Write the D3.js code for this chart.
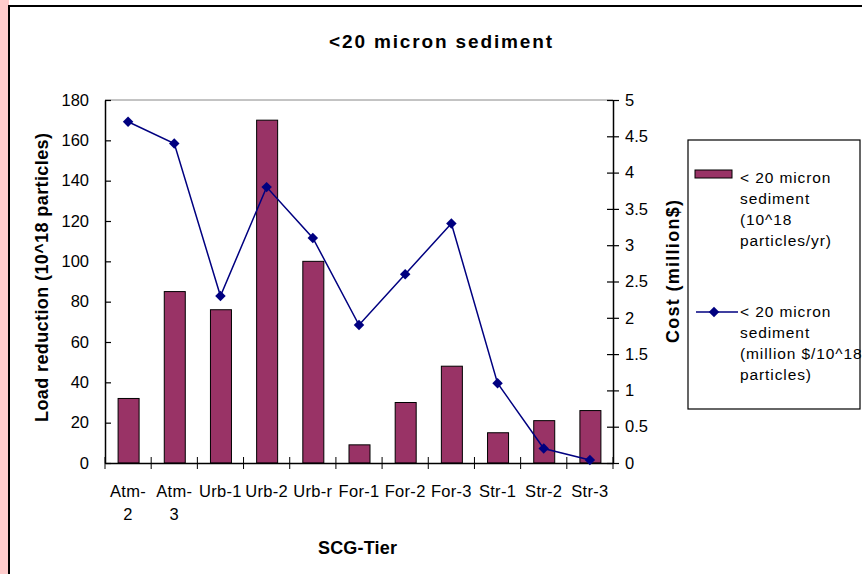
<!DOCTYPE html>
<html>
<head>
<meta charset="utf-8">
<script src="https://cdn.jsdelivr.net/npm/d3@7"></script>
<style>
	body { margin: 0; background: #fff; }
	svg text { font-family: "Liberation Sans", Arial, sans-serif; fill: #000; }
</style>
</head>
<body>
<div id="chart"></div>
<script>
//////////////////////////////// Data ////////////////////////////////
var categories = ["Atm-2", "Atm-3", "Urb-1", "Urb-2", "Urb-r", "For-1", "For-2", "For-3", "Str-1", "Str-2", "Str-3"];
var loadValues = [32, 85, 76, 170, 100, 9, 30, 48, 15, 21, 26];
var costValues = [4.7, 4.4, 2.3, 3.8, 3.1, 1.9, 2.6, 3.3, 1.1, 0.2, 0.04];
var leftTicks = [0, 20, 40, 60, 80, 100, 120, 140, 160, 180];
var rightTicks = [0, 0.5, 1, 1.5, 2, 2.5, 3, 3.5, 4, 4.5, 5];
var barLegend = ["< 20 micron", "sediment", "(10^18", "particles/yr)"];
var lineLegend = ["< 20 micron", "sediment", "(million $/10^18", "particles)"];

var width = 862, height = 574;
var plot = {left: 105, right: 613, top: 100, bottom: 463};
var barColor = "#993366", lineColor = "#000080";
var tickFont = "16.5px";

var svg = d3.select("#chart").append("svg")
	.attr("width", width)
	.attr("height", height);

//Pink strip on the left and the chart frame
svg.append("rect").attr("x", 0).attr("y", 0).attr("width", 9).attr("height", height).style("fill", "#ffcccc");
svg.append("rect")
	.attr("x", 9).attr("y", 6).attr("width", width + 10).attr("height", height + 10)
	.style("fill", "#fff").style("stroke", "#000").style("stroke-width", 2);

//////////////////////////////// Scales ////////////////////////////////
var x = d3.scaleBand().domain(categories).range([plot.left, plot.right]);
var yLeft = d3.scaleLinear().domain([0, 180]).range([plot.bottom, plot.top]);
var yRight = d3.scaleLinear().domain([0, 5]).range([plot.bottom, plot.top]);

//Top border of the plot area
svg.append("line")
	.attr("x1", plot.left).attr("x2", plot.right)
	.attr("y1", plot.top).attr("y2", plot.top)
	.style("stroke", "#888").style("stroke-width", 1);

//////////////////////////////// Bars ////////////////////////////////
var barW = 21;
svg.selectAll(".bar")
	.data(loadValues)
	.enter().append("rect")
	.attr("class", "bar")
	.attr("x", function(d, i) { return x(categories[i]) + x.bandwidth()/2 - barW/2 + 0.5; })
	.attr("y", function(d) { return yLeft(d); })
	.attr("width", barW)
	.attr("height", function(d) { return plot.bottom - yLeft(d); })
	.style("fill", barColor)
	.style("stroke", "#000")
	.style("stroke-width", 1);

//////////////////////////////// Axes ////////////////////////////////
var leftAxis = d3.axisLeft(yLeft).tickValues(leftTicks).tickSizeInner(6).tickSizeOuter(0).tickPadding(10);
var gl = svg.append("g").attr("transform", "translate(" + plot.left + ",0)").call(leftAxis);
gl.selectAll(".tick line").attr("x2", 6);

var rightAxis = d3.axisRight(yRight).tickValues(rightTicks).tickSizeInner(6).tickSizeOuter(0).tickPadding(6)
	.tickFormat(function(d) { return d; });
var gr = svg.append("g").attr("transform", "translate(" + plot.right + ",0)").call(rightAxis);
gr.selectAll(".tick line").attr("x1", -6);

var bottomAxis = d3.axisBottom(x).tickSize(0).tickFormat("");
var gb = svg.append("g").attr("transform", "translate(0," + plot.bottom + ")").call(bottomAxis);
//Ticks at the category boundaries
var boundaries = categories.map(function(c) { return x(c); }).concat([plot.right]);
gb.selectAll(".boundary")
	.data(boundaries)
	.enter().append("line")
	.attr("x1", function(d) { return d; }).attr("x2", function(d) { return d; })
	.attr("y1", -6).attr("y2", 6)
	.style("stroke", "#000");

[gl, gr, gb].forEach(function(g) {
	g.attr("font-size", null).attr("font-family", null);
	g.selectAll(".domain").style("stroke", "#000").style("stroke-width", 1.5);
	g.selectAll(".tick line").style("stroke", "#000").style("stroke-width", 1.2);
	g.selectAll("text").style("font-size", tickFont).style("fill", "#000");
});

//Category labels (the Atm ones wrap onto two lines)
svg.selectAll(".cat-label")
	.data(categories)
	.enter().append("text")
	.attr("class", "cat-label")
	.attr("text-anchor", "middle")
	.style("font-size", "16.5px")
	.style("letter-spacing", "0.3px")
	.each(function(d) {
		var cx = x(d) + x.bandwidth()/2;
		var parts = d.indexOf("Atm") === 0 ? [d.split("-")[0] + "-", d.split("-")[1]] : [d];
		var t = d3.select(this);
		parts.forEach(function(p, i) {
			t.append("tspan").attr("x", cx).attr("y", 497 + i*23).text(p);
		});
	});

//////////////////////////////// Line ////////////////////////////////
var line = d3.line()
	.x(function(d, i) { return x(categories[i]) + x.bandwidth()/2; })
	.y(function(d) { return yRight(d); });

svg.append("path")
	.datum(costValues)
	.attr("d", line)
	.style("fill", "none")
	.style("stroke", lineColor)
	.style("stroke-width", 1.5);

var diamond = d3.symbol().type(d3.symbolDiamond2).size(70);
svg.selectAll(".marker")
	.data(costValues)
	.enter().append("path")
	.attr("class", "marker")
	.attr("d", diamond)
	.attr("transform", function(d, i) {
		return "translate(" + (x(categories[i]) + x.bandwidth()/2) + "," + yRight(d) + ")";
	})
	.style("fill", lineColor);

//////////////////////////////// Titles ////////////////////////////////
svg.append("text")
	.attr("x", 329).attr("y", 48)
	.attr("textLength", 223).attr("lengthAdjust", "spacing")
	.style("font-size", "19px").style("font-weight", "bold")
	.text("<20 micron sediment");

svg.append("text")
	.attr("transform", "translate(48,422) rotate(-90)")
	.attr("textLength", 289).attr("lengthAdjust", "spacing")
	.style("font-size", "18px").style("font-weight", "bold")
	.text("Load reduction (10^18 particles)");

svg.append("text")
	.attr("transform", "translate(679,343) rotate(-90)")
	.attr("textLength", 143).attr("lengthAdjust", "spacing")
	.style("font-size", "18px").style("font-weight", "bold")
	.text("Cost (million$)");

svg.append("text")
	.attr("x", 318).attr("y", 554)
	.attr("textLength", 79).attr("lengthAdjust", "spacing")
	.style("font-size", "18px").style("font-weight", "bold")
	.text("SCG-Tier");

//////////////////////////////// Legend ////////////////////////////////
var legend = svg.append("g").attr("transform", "translate(688,140)");
legend.append("rect")
	.attr("width", 172).attr("height", 269)
	.style("fill", "#fff").style("stroke", "#000").style("stroke-width", 1.2);

legend.append("rect")
	.attr("x", 7).attr("y", 30).attr("width", 37).attr("height", 8)
	.style("fill", barColor).style("stroke", "#000");

legend.append("line")
	.attr("x1", 8).attr("x2", 50).attr("y1", 172).attr("y2", 172)
	.style("stroke", lineColor).style("stroke-width", 1.5);
legend.append("path")
	.attr("d", diamond)
	.attr("transform", "translate(26,172)")
	.style("fill", lineColor);

function legendText(lines, y0) {
	legend.append("text")
		.style("font-size", "15.5px")
		.style("letter-spacing", "0.9px")
		.selectAll("tspan")
		.data(lines)
		.enter().append("tspan")
		.attr("x", 52)
		.attr("y", function(d, i) { return y0 + i*21; })
		.text(function(d) { return d; });
}
legendText(barLegend, 43);
legendText(lineLegend, 177);
</script>
</body>
</html>
